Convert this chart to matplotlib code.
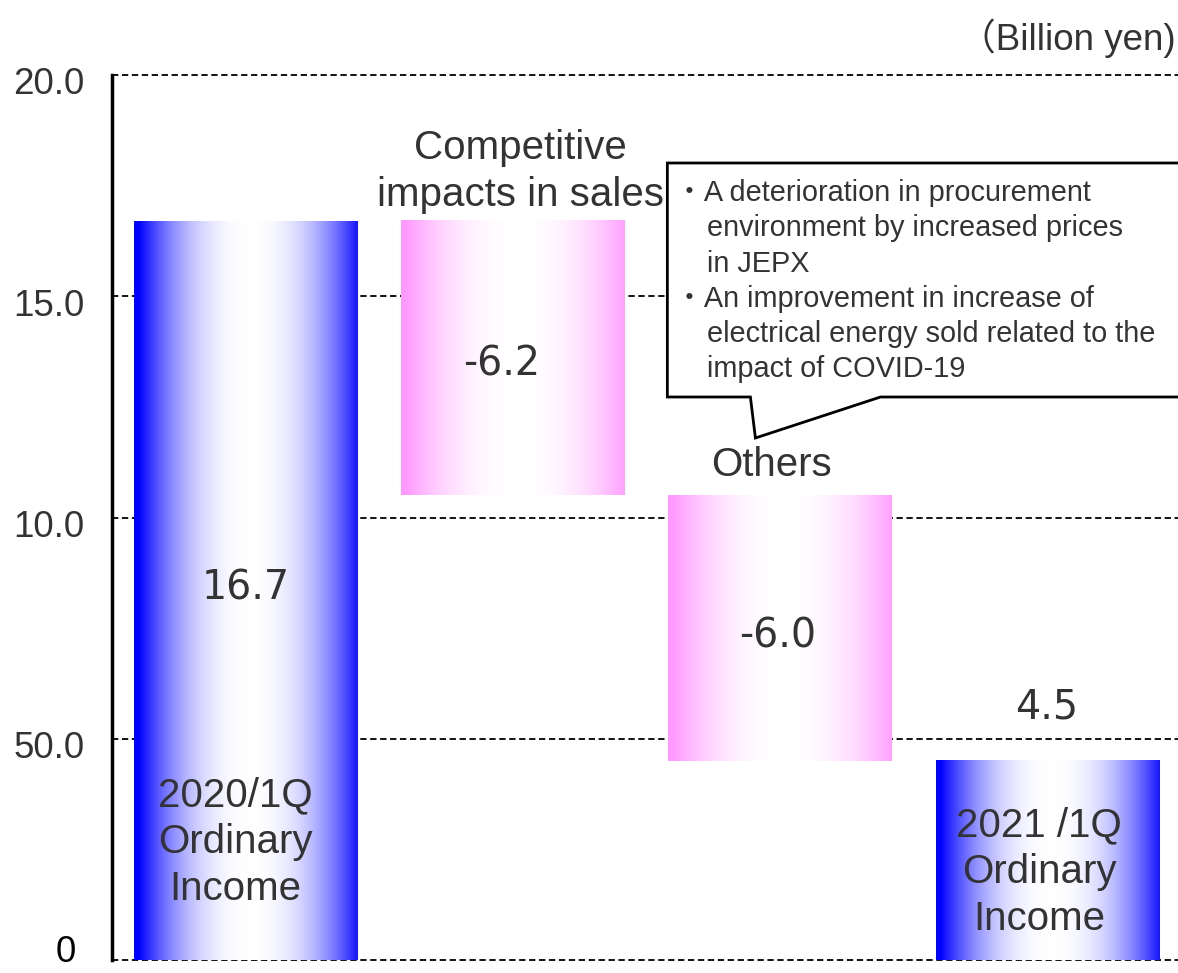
import numpy as np
import matplotlib
matplotlib.use("Agg")
import matplotlib.pyplot as plt
import matplotlib.transforms as mtrans
from matplotlib.patches import Polygon

# ---- data ----
categories = ["2020/1Q\nOrdinary\nIncome", "Competitive\nimpacts in sales", "Others", "2021 /1Q\nOrdinary\nIncome"]
bar_bottoms = [0.0, 10.5, 4.5, 0.0]
bar_tops = [16.7, 16.7, 10.5, 4.5]
value_labels = ["16.7", "-6.2", "-6.0", "4.5"]
bar_kinds = ["total", "delta", "delta", "total"]
ytick_values = [0, 5, 10, 15, 20]
ytick_labels = ["0", "50.0", "10.0", "15.0", "20.0"]
callout_lines = [
    "・A deterioration in procurement",
    "    environment by increased prices",
    "    in JEPX",
    "・An improvement in increase of",
    "    electrical energy sold related to the",
    "    impact of COVID-19",
]

TXT = "#333333"
ARIAL = ["Liberation Sans", "Noto Sans CJK JP", "DejaVu Sans"]

fig = plt.figure(figsize=(11.78, 9.73), dpi=100)
ax = fig.add_axes([112/1178, 13/973, 1 - 112/1178, (960-75)/973])
x = np.arange(len(categories))
width = 0.835

# grid
for yv in ytick_values:
    ax.axhline(yv, color="black", lw=1.3, ls=(0, (3.5, 2)), zorder=1, clip_on=False)

# gradient bars
def gradient(rgb, n=256, p=2.2):
    t = np.linspace(0, 1, n)
    d = np.clip(np.abs(t - 0.52) / 0.5, 0, 1) ** p
    c = np.array(rgb) / 255.0
    arr = (1 - d)[:, None] * np.ones(3) + d[:, None] * c
    return arr[None, :, :]

colors = {"total": (0, 0, 255), "delta": (255, 153, 255)}
for xi, b, t, k in zip(x, bar_bottoms, bar_tops, bar_kinds):
    ax.imshow(gradient(colors[k]), extent=(xi - width/2, xi + width/2, b, t),
              aspect="auto", zorder=2, interpolation="bilinear")
ax.set_xlim(-0.5, 3.49)
ax.set_ylim(0, 20)

# value labels
vpos = [8.4, 13.45, 7.3, 5.7]
xoff = [0, -0.04, -0.01, 0]
for xi, lab, yv, xo in zip(x, value_labels, vpos, xoff):
    ax.text(xi + xo, yv, lab, ha="center", va="center", fontsize=28.5, color=TXT,
            family="DejaVu Sans", zorder=4)

# category labels
CFS = 29
ax.text(x[0] - 0.04, 2.66, categories[0], ha="center", va="center", fontsize=CFS,
        color=TXT, family=ARIAL, linespacing=1.29, zorder=4)
ax.text(x[3] - 0.03, 1.98, categories[3], ha="center", va="center", fontsize=CFS,
        color=TXT, family=ARIAL, linespacing=1.29, zorder=4)
ax.text(x[1] + 0.03, 16.85, categories[1], ha="center", va="bottom", fontsize=CFS,
        color=TXT, family=ARIAL, linespacing=1.30, zorder=4)
ax.text(x[2] - 0.03, 10.75, categories[2], ha="center", va="bottom", fontsize=CFS,
        color=TXT, family=ARIAL, zorder=4)

# callout box
px = lambda p: (p - 245.5) / 267.0
py = lambda p: (960 - p) / 44.25
poly = [(px(667), py(163)), (px(1185), py(163)), (px(1185), py(397)),
        (px(880), py(397)), (px(755), py(438)), (px(750), py(397)),
        (px(667), py(397))]
ax.add_patch(Polygon(poly, closed=True, facecolor="white", edgecolor="black",
                     lw=2, zorder=5, clip_on=False))
ax.text(px(675), py(179), "\n".join(callout_lines), ha="left", va="top",
        fontsize=20.8, color=TXT, family=ARIAL, linespacing=1.33, zorder=6)

# axes styling
ax.set_xticks([])
ax.set_yticks(ytick_values)
ax.set_yticklabels(ytick_labels, fontsize=26.5, color=TXT, family=ARIAL)
ax.tick_params(axis="y", length=0, pad=20)
off = mtrans.ScaledTranslation(0, -6/100, fig.dpi_scale_trans)
for lbl in ax.get_yticklabels():
    if lbl.get_text() == "0":
        lbl.set_transform(lbl.get_transform() +
                          mtrans.ScaledTranslation(-8/100, 12/100, fig.dpi_scale_trans))
        lbl.set_color("black")
    else:
        lbl.set_transform(lbl.get_transform() + off)
for s in ["top", "right", "bottom"]:
    ax.spines[s].set_visible(False)
ax.spines["left"].set_linewidth(2.5)
ax.spines["left"].set_zorder(3)

fig.text(1176/1178, 1 - 38/973, "（Billion yen)", ha="right", va="center",
         fontsize=26.5, color=TXT, family=ARIAL)

fig.savefig("out.png", dpi=100)
